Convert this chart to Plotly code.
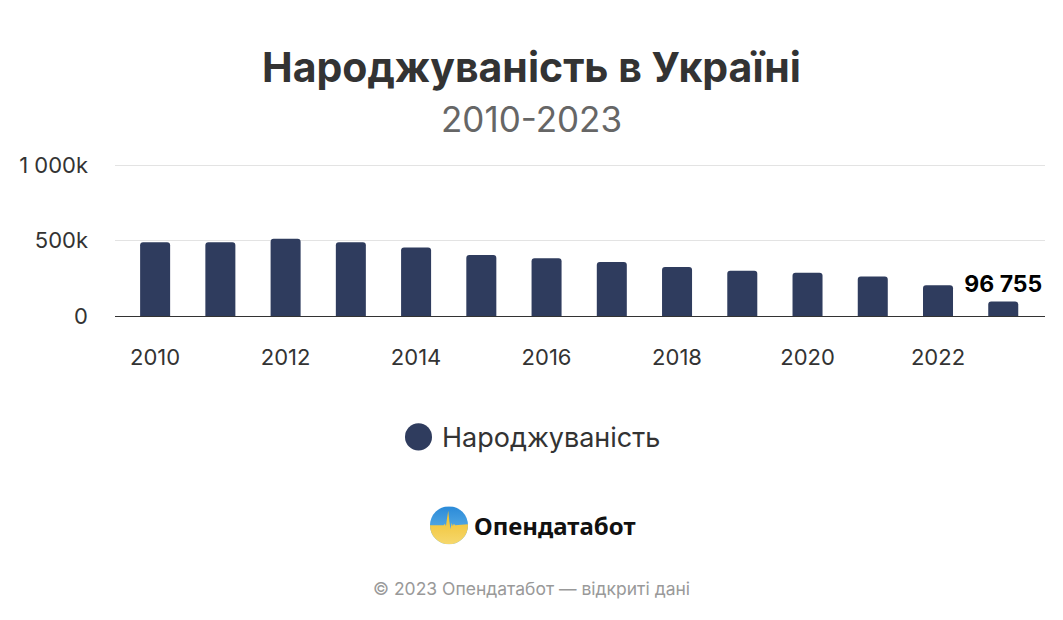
import base64
import plotly.graph_objects as go

# ---- data ----
years = [2010, 2011, 2012, 2013, 2014, 2015, 2016, 2017, 2018, 2019, 2020, 2021, 2022, 2023]
births = [489000, 489000, 511000, 489000, 453000, 404000, 382000, 358000, 324000, 300000, 287000, 262000, 204000, 96755]
series_name = "Народжуваність"
y_tick_vals = [0, 500000, 1000000]
y_tick_text = ["0", "500k", "1 000k"]
title_text = "Народжуваність в Україні"
subtitle_text = "2010-2023"
brand_text = "Опендатабот"
footer_text = "© 2023 Опендатабот — відкриті дані"

# ---- layout geometry (page pixels); the page body adds an 8px offset ----
OFF = 8
Y_TOP = 1040000
W, H = 1063 - OFF, 620 - OFF
PB_PAGE = 315.7
PX_PER_UNIT = 150.2 / 1000000
PT_PAGE = PB_PAGE - Y_TOP * PX_PER_UNIT
PL, PR, PT, PB = 115 - OFF, 1045 - OFF, PT_PAGE - OFF, PB_PAGE - OFF


def px_x(px):
    return (px - OFF - PL) / (PR - PL)


def px_y(py):
    return (PB - (py - OFF)) / (PB - PT)


bar_color = "#2F3C5E"
FONT = "Inter, Roboto, sans-serif"

labels = [""] * (len(births) - 1) + ["%{y:,}"]

fig = go.Figure()
fig.add_trace(go.Bar(
    x=years, y=births, name=series_name,
    marker=dict(color=bar_color, cornerradius=3, line=dict(width=0)),
    width=0.46,
    texttemplate=labels,
    textposition="outside",
    constraintext="none",
    textfont=dict(family=FONT, size=23, color="#000000", weight="bold"),
    cliponaxis=False,
    showlegend=False,
))

logo_svg = """<svg xmlns='http://www.w3.org/2000/svg' viewBox='0 0 100 100'>
<defs>
<linearGradient id='b' x1='0' y1='0' x2='0' y2='1'><stop offset='0' stop-color='#2A8AD8'/><stop offset='1' stop-color='#6FBDEC'/></linearGradient>
<linearGradient id='y' x1='0' y1='0' x2='0' y2='1'><stop offset='0' stop-color='#F0BE28'/><stop offset='1' stop-color='#F6D86E'/></linearGradient>
<clipPath id='c'><circle cx='50' cy='50' r='50'/></clipPath>
</defs>
<g clip-path='url(#c)'>
<rect x='0' y='0' width='100' height='100' fill='url(#b)'/>
<path d='M0 50 L36 50 L39 46 L42 52 L45 30 L48 12 L51 40 L54 60 L57 44 L60 52 L63 46 L66 50 L100 47 L100 100 L0 100 Z' fill='url(#y)'/>
</g>
</svg>"""
logo_src = "data:image/svg+xml;base64," + base64.b64encode(logo_svg.encode()).decode()

CX = 531.5  # page centre

fig.update_layout(
    width=W, height=H,
    margin=dict(l=PL, r=W - PR, t=PT, b=H - PB, pad=0, autoexpand=False),
    paper_bgcolor="white", plot_bgcolor="white",
    separators=". ",
    font=dict(family=FONT, color="#333333"),
    bargap=0.5,
    xaxis=dict(
        range=[2009.385, 2023.64],
        tickmode="array", tickvals=years[::2],
        tickfont=dict(size=22, color="#333333"),
        showgrid=False, zeroline=False,
        showline=True, linecolor="#333333", linewidth=1,
        ticks="", ticklabelstandoff=22,
    ),
    yaxis=dict(
        range=[0, Y_TOP],
        tickmode="array", tickvals=y_tick_vals, ticktext=y_tick_text,
        tickfont=dict(size=22, color="#333333"),
        showgrid=True, gridcolor="#e3e3e3", gridwidth=1,
        zeroline=False, showline=False,
        ticks="", ticklabelstandoff=26,
    ),
    showlegend=False,
    annotations=[
        dict(text="<b>" + title_text + "</b>", x=px_x(CX), xref="paper", xanchor="center",
             y=px_y(68), yref="paper", yanchor="middle", showarrow=False,
             font=dict(family=FONT, size=41, color="#333333")),
        dict(text=subtitle_text, x=px_x(CX), xref="paper", xanchor="center",
             y=px_y(120), yref="paper", yanchor="middle", showarrow=False,
             font=dict(family=FONT, size=35, color="#666666")),
        dict(text=series_name, x=px_x(440), xref="paper", xanchor="left",
             y=px_y(437), yref="paper", yanchor="middle", showarrow=False,
             font=dict(family=FONT, size=27, color="#333333")),
        dict(text="<b>" + brand_text + "</b>", x=px_x(472), xref="paper", xanchor="left",
             y=px_y(524), yref="paper", yanchor="middle", showarrow=False,
             font=dict(family="Noto Sans, sans-serif", size=24, color="#111111")),
        dict(text=footer_text, x=px_x(CX), xref="paper", xanchor="center",
             y=px_y(587), yref="paper", yanchor="middle", showarrow=False,
             font=dict(family=FONT, size=17.5, color="#999999")),
    ],
    shapes=[
        dict(type="circle", xref="paper", yref="paper",
             x0=px_x(405), x1=px_x(432), y0=px_y(449.5), y1=px_y(422.5),
             fillcolor=bar_color, line=dict(width=0)),
    ],
    images=[
        dict(source=logo_src, xref="paper", yref="paper",
             x=px_x(430), y=px_y(505), sizex=38 / (PR - PL), sizey=38 / (PB - PT),
             xanchor="left", yanchor="top", sizing="stretch", layer="above"),
    ],
)

fig.write_html("out.html")
